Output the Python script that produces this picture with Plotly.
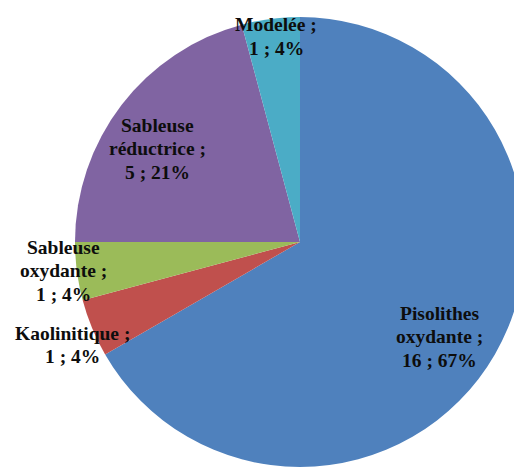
import plotly.graph_objects as go

# ---- data ----
categories = ["Pisolithes oxydante", "Kaolinitique", "Sableuse oxydante",
              "Sableuse réductrice", "Modelée"]
counts = [16, 1, 1, 5, 1]
colors = ["#4F81BD", "#C0504D", "#9BBB59", "#8064A2", "#4BACC6"]

# label anchor positions (pixels, centre of first line) and line pitch
label_pos = [(439, 313), (72, 333), (63, 247), (158, 125), (276, 25)]
line_pitch = 23.5

W, H = 600, 467
total = sum(counts)

fig = go.Figure(go.Pie(
    labels=categories, values=counts, sort=False, direction="clockwise",
    rotation=0, marker=dict(colors=colors, line=dict(width=0)),
    textinfo="none", hoverinfo="label+value+percent", showlegend=False,
    domain=dict(x=[0, 1], y=[0, 450 / H]),
))

annotations = []
for name, v, (px, py) in zip(categories, counts, label_pos):
    words = name.split(" ")
    lines = words[:-1] + [words[-1] + " ;"]
    lines.append(f"{v} ; {round(100 * v / total)}%")
    for i, ln in enumerate(lines):
        annotations.append(dict(
            text=ln, x=px / W, y=1 - (py + i * line_pitch) / H,
            xref="paper", yref="paper", xanchor="center", yanchor="middle",
            showarrow=False,
            font=dict(family="Liberation Serif", weight="bold",
                      size=19.5, color="#0d0d0d"),
        ))

fig.update_layout(
    width=W, height=H, autosize=False,
    margin=dict(l=0, r=0, t=0, b=0),
    paper_bgcolor="white", plot_bgcolor="white",
    annotations=annotations,
)

fig.write_html(
    "out.html",
    post_script="document.documentElement.style.overflow='hidden';"
                "document.body.style.overflow='hidden';"
                "document.body.style.margin='0';",
)
